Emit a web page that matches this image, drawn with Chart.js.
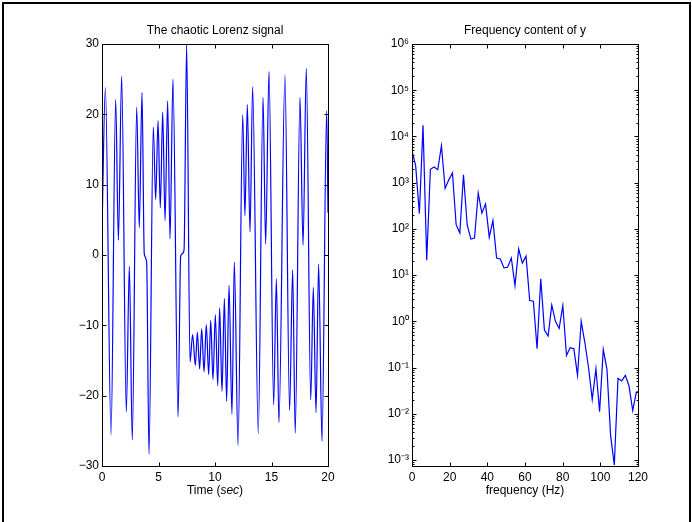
<!DOCTYPE html>
<html>
<head>
<meta charset="utf-8">
<script src="https://cdn.jsdelivr.net/npm/chart.js@4"></script>
<style>
  html, body { margin: 0; padding: 0; background: #fff; }
  body { width: 692px; height: 522px; position: relative; overflow: hidden; }
  #frame { position: absolute; left: 2px; top: 2px; width: 685px; height: 560px;
           border: 2px solid #000; border-bottom: none; }
  canvas { position: absolute; top: 0; }
  #lorenz { left: 0; }
  #spectrum { left: 346px; }
</style>
</head>
<body>
<div id="frame"></div>
<canvas id="lorenz" width="346" height="522"></canvas>
<canvas id="spectrum" width="346" height="522"></canvas>
<script>
// left panel: x(t) of the Lorenz system
const lorenzTime = [0, 0.3, 0.8, 1.21, 1.45, 1.74, 2.15, 2.42, 2.68, 3.07, 3.30, 3.54, 3.74, 3.95,
  4.16, 4.54, 4.75, 4.96, 5.16, 5.37, 5.58, 5.81, 6.02, 6.28, 6.73, 6.96, 7.1, 7.26, 7.49, 7.79,
  8.02, 8.26, 8.44, 8.64, 8.82, 9.03, 9.23, 9.44, 9.62, 9.82, 10.03, 10.24, 10.41, 10.62, 10.83,
  11.03, 11.24, 11.5, 11.71, 12.04, 12.45, 12.65, 12.86, 13.1, 13.33, 13.83, 14.25, 14.48, 14.78,
  15.19, 15.43, 15.66, 16.19, 16.6, 16.87, 17.1, 17.52, 17.79, 18.08, 18.47, 18.7, 18.94, 19.17,
  19.47, 19.88, 20];
const lorenzX = [3.5, 23.8, -25.6, 22.1, 2.1, 25.4, -22.3, -1.6, -26.3, 21.0, 3.9, 23.1, 0.2, -1.0,
  -28.3, 18.2, 7.9, 19.1, 6.7, 20.3, 4.9, 21.9, 2.3, 25.0, -23.0, -0.2, 0.2, 0.7, 29.9, -15.2,
  -11.3, -15.7, -11.0, -16.2, -10.5, -16.6, -9.9, -17.0, -9.3, -17.7, -8.5, -18.6, -7.5, -19.4, -6.2,
  -20.8, -4.3, -22.6, -1.0, -27.1, 19.9, 5.6, 21.4, 3.3, 23.9, -25.4, 22.4, 1.6, 26.1,
  -21.3, -3.4, -23.8, 25.6, -22.1, -2.1, -25.3, 22.4, 1.4, 26.5, -20.6, -4.6, -22.4, -1.3,
  -26.5, 20.5, 6];

// right panel: power spectrum of y
const freqHz = [0, 1.95, 3.91, 5.86, 7.81, 9.77, 11.72, 13.67, 15.63, 17.58, 19.53, 21.48, 23.44,
  25.39, 27.34, 29.30, 31.25, 33.20, 35.16, 37.11, 39.06, 41.02, 42.97, 44.92, 46.88, 48.83, 50.78,
  52.73, 54.69, 56.64, 58.59, 60.55, 62.50, 64.45, 66.41, 68.36, 70.31, 72.27, 74.22, 76.17, 78.13,
  80.08, 82.03, 83.98, 85.94, 87.89, 89.84, 91.80, 93.75, 95.70, 97.66, 99.61, 101.56, 103.52,
  105.47, 107.42, 109.38, 111.33, 113.28, 115.23, 117.19, 119.14, 121.09];
const powerY = [4900, 2300, 214, 17400, 20.9, 1950, 2190, 1905, 6310, 750, 1150, 1620, 123,
  81, 1480, 123, 60, 63, 596, 219, 347, 66, 151, 23.4, 22.4, 14.3, 14.8,
  23.4, 5.9, 36.7, 18.2, 25.7, 2.82, 2.72, 0.254, 8.3, 0.646, 0.479, 2.24, 1.0, 0.70,
  2.19, 0.182, 0.269, 0.254, 0.0676, 1.0, 0.343, 0.0989, 0.0204, 0.0933, 0.0111, 0.245, 0.0912,
  0.00331, 0.000776, 0.0582, 0.0513, 0.0676, 0.0398, 0.0117, 0.0295, 0.03];

const lorenzTicksX = [0, 5, 10, 15, 20];
const lorenzTicksY = [-30, -20, -10, 0, 10, 20, 30];
const freqTicks = [0, 20, 40, 60, 80, 100, 120];

const FONT_SIZE = 12;
Chart.defaults.font.family = '"Liberation Sans", Arial, sans-serif';
Chart.defaults.font.size = FONT_SIZE;
Chart.defaults.color = '#000';

const SUP = { '-': '\u207B', '0': '\u2070', '1': '\u00B9', '2': '\u00B2', '3': '\u00B3',
  '4': '\u2074', '5': '\u2075', '6': '\u2076', '7': '\u2077', '8': '\u2078', '9': '\u2079' };
const minus = v => (v < 0 ? '\u2212' + Math.abs(v) : String(v));

// MATLAB style box with inward ticks
const boxTicks = {
  id: 'boxTicks',
  afterDatasetsDraw(chart) {
    const { ctx, chartArea: a, scales } = chart;
    const L = Math.round(a.left) + 0.5, R = Math.round(a.right) + 0.5;
    const T = Math.round(a.top) + 0.5, B = Math.round(a.bottom) + 0.5;
    ctx.save();
    ctx.strokeStyle = '#000';
    ctx.lineWidth = 1;
    ctx.beginPath();
    scales.x.ticks.forEach((t, i) => {
      const p = Math.round(scales.x.getPixelForTick(i)) + 0.5;
      ctx.moveTo(p, B); ctx.lineTo(p, B - 4);
      ctx.moveTo(p, T); ctx.lineTo(p, T + 4);
    });
    scales.y.ticks.forEach((t, i) => {
      const p = Math.round(scales.y.getPixelForTick(i)) + 0.5;
      const len = t.label ? 4 : 2;
      ctx.moveTo(L, p); ctx.lineTo(L + len, p);
      ctx.moveTo(R, p); ctx.lineTo(R - len, p);
    });
    ctx.stroke();
    ctx.strokeRect(L, T, R - L, B - T);
    ctx.restore();
  }
};

// x axis title that can mix upright and italic text
const axisLabel = {
  id: 'axisLabel',
  afterDraw(chart, args, opts) {
    const { ctx, chartArea: a } = chart;
    const fam = Chart.defaults.font.family;
    ctx.save();
    ctx.fillStyle = '#000';
    ctx.textBaseline = 'middle';
    ctx.textAlign = 'left';
    const fontFor = style => (style ? style + ' ' : 'normal ') + FONT_SIZE + 'px ' + fam;
    let w = 0;
    opts.parts.forEach(([txt, style]) => {
      ctx.font = fontFor(style);
      w += ctx.measureText(txt).width;
    });
    let x = (a.left + a.right) / 2 - w / 2;
    const y = a.bottom + 25;
    opts.parts.forEach(([txt, style]) => {
      ctx.font = fontFor(style);
      ctx.fillText(txt, x, y);
      x += ctx.measureText(txt).width;
    });
    ctx.restore();
  }
};

const fixedTicks = values => scale => {
  scale.ticks = values.map(v => ({ value: v }));
};

const titleOpts = text => ({
  display: true, text,
  fullSize: false,
  font: { size: FONT_SIZE, weight: 'normal' },
  padding: { top: 0, bottom: 6.3 }
});

new Chart('lorenz', {
  type: 'line',
  data: {
    datasets: [{
      data: lorenzTime.map((t, i) => ({ x: t, y: lorenzX[i] })),
      borderColor: '#0000ff',
      borderWidth: 1.2,
      pointRadius: 0,
      cubicInterpolationMode: 'monotone',
      clip: 0
    }]
  },
  options: {
    responsive: false,
    animation: false,
    layout: { padding: { left: 62, right: 18, top: 23.3, bottom: 16 } },
    plugins: {
      legend: { display: false },
      tooltip: { enabled: false },
      title: titleOpts('The chaotic Lorenz signal'),
      axisLabel: { parts: [['Time (', ''], ['sec', 'italic'], [')', '']] }
    },
    scales: {
      x: {
        type: 'linear', min: 0, max: 20,
        afterBuildTicks: fixedTicks(lorenzTicksX),
        afterFit: s => { s.height = 40; },
        grid: { display: false, drawTicks: false },
        border: { display: false },
        ticks: { padding: 4, maxRotation: 0, autoSkip: false }
      },
      y: {
        type: 'linear', min: -30, max: 30,
        afterBuildTicks: fixedTicks(lorenzTicksY),
        afterFit: s => { s.width = 40; },
        grid: { display: false, drawTicks: false },
        border: { display: false },
        ticks: { padding: 3, autoSkip: false, callback: minus }
      }
    }
  },
  plugins: [boxTicks, axisLabel]
});

new Chart('spectrum', {
  type: 'line',
  data: {
    datasets: [{
      data: freqHz.map((f, i) => ({ x: f, y: powerY[i] })),
      borderColor: '#0000ff',
      borderWidth: 1.2,
      pointRadius: 0,
      tension: 0,
      clip: 0
    }]
  },
  options: {
    responsive: false,
    animation: false,
    layout: { padding: { left: 26, right: 54, top: 23.3, bottom: 16 } },
    plugins: {
      legend: { display: false },
      tooltip: { enabled: false },
      title: titleOpts('Frequency content of y'),
      axisLabel: { parts: [['frequency (Hz)', '']] }
    },
    scales: {
      x: {
        type: 'linear', min: 0, max: 120,
        afterBuildTicks: fixedTicks(freqTicks),
        afterFit: s => { s.height = 40; },
        grid: { display: false, drawTicks: false },
        border: { display: false },
        ticks: { padding: 4, maxRotation: 0, autoSkip: false }
      },
      y: {
        type: 'logarithmic', min: 7.4e-4, max: 1e6,
        afterBuildTicks: scale => {
          const ticks = [];
          for (let e = -4; e <= 6; e++) {
            for (let m = 1; m <= 9; m++) {
              const v = m * Math.pow(10, e);
              if (v >= scale.min * 0.999 && v <= scale.max * 1.001) ticks.push({ value: v });
            }
          }
          scale.ticks = ticks;
        },
        afterFit: s => { s.width = 40; },
        grid: { display: false, drawTicks: false },
        border: { display: false },
        ticks: {
          padding: 3,
          autoSkip: false,
          callback: v => {
            const e = Math.round(Math.log10(v));
            if (Math.abs(v / Math.pow(10, e) - 1) > 1e-6) return '';
            return '10' + String(e).split('').map(c => SUP[c]).join('');
          }
        }
      }
    }
  },
  plugins: [boxTicks, axisLabel]
});
</script>
</body>
</html>
